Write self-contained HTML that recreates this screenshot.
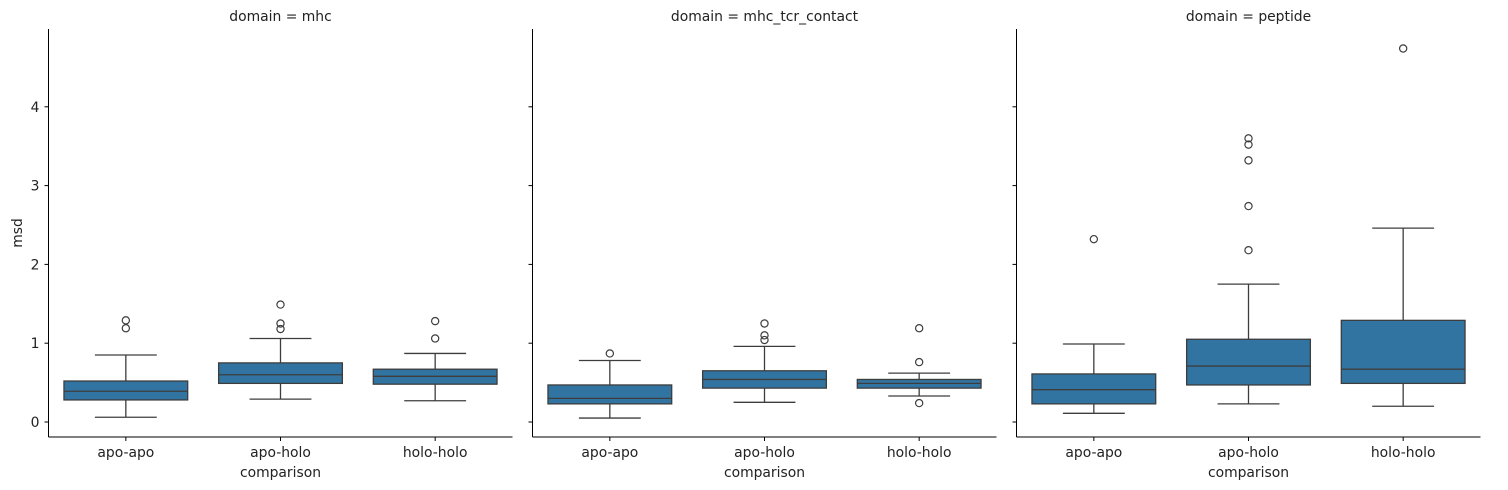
<!DOCTYPE html>
<html><head><meta charset="utf-8"><style>
body{margin:0;background:#fff;}
svg{display:block;font-family:"DejaVu Sans","Liberation Sans",sans-serif;}
</style></head><body>
<svg id="chart" width="1508" height="490" viewBox="0 0 1508 490"></svg>
<script>
const domains = ["mhc","mhc_tcr_contact","peptide"];
const categories = ["apo-apo","apo-holo","holo-holo"];
// [whiskerLow, q1, median, q3, whiskerHigh] per domain per category
const mhcStats = [[0.06,0.28,0.39,0.52,0.85],[0.29,0.49,0.60,0.75,1.06],[0.27,0.48,0.58,0.67,0.87]];
const contactStats = [[0.05,0.23,0.30,0.47,0.78],[0.25,0.43,0.54,0.65,0.96],[0.33,0.43,0.49,0.54,0.62]];
const peptideStats = [[0.11,0.23,0.41,0.61,0.99],[0.23,0.47,0.71,1.05,1.75],[0.20,0.49,0.67,1.29,2.46]];
const mhcOutliers = [[1.29,1.19],[1.49,1.25,1.18],[1.28,1.06]];
const contactOutliers = [[0.87],[1.25,1.10,1.04],[1.19,0.76,0.24]];
const peptideOutliers = [[2.32],[2.18,2.74,3.32,3.52,3.60],[4.74]];
const yTicks = [0,1,2,3,4];
const allStats=[mhcStats,contactStats,peptideStats];
const allOut=[mhcOutliers,contactOutliers,peptideOutliers];

const NS="http://www.w3.org/2000/svg";
const svg=document.getElementById('chart');
function mk(tag,attrs,parent){const e=document.createElementNS(NS,tag);for(const k in attrs)e.setAttribute(k,attrs[k]);(parent||svg).appendChild(e);return e;}
const panelLeft=[48.5,532.5,1016.5], panelW=464, TOPY=29, BOTY=437;
const FS=13.9;
const yScale=v=>422-v*78.8;
const ink="#3d3d3d", fill="#3274a1";

domains.forEach((d,p)=>{
  const L=panelLeft[p];
  const g=mk('g',{});
  
  
  const xScale=i=>L+panelW/6+i*panelW/3;
  const bw=panelW/3*0.8;
  const t=mk('text',{x:L+panelW/2,y:21,'text-anchor':'middle','font-size':FS,fill:'#222'},g);
  t.textContent='domain = '+d;
  
  
  const ya=mk('line',{x1:L,y1:TOPY,x2:L,y2:BOTY,stroke:'#000','stroke-width':1},g);
  
  
  const xa=mk('line',{x1:L,y1:BOTY,x2:L+panelW,y2:BOTY,stroke:'#000','stroke-width':1},g);
  
  
  yTicks.forEach(v=>{
    mk('line',{x1:L-4,y1:yScale(v),x2:L,y2:yScale(v),stroke:'#000'},g);
    if(p===0){const tl=mk('text',{x:L-9,y:yScale(v)+5,'text-anchor':'end','font-size':FS,fill:'#222'},g);tl.textContent=v;
      
      }
  });
  categories.forEach((c,i)=>{
    const cx=xScale(i), s=allStats[p][i];
    mk('line',{x1:cx,y1:BOTY,x2:cx,y2:BOTY+4,stroke:'#000'},g);
    const tl=mk('text',{x:cx,y:BOTY+20,'text-anchor':'middle','font-size':FS,fill:'#222'},g);tl.textContent=c;
    
    
    const bg=mk('g',{},g);
    
    
    mk('line',{x1:cx,y1:yScale(s[0]),x2:cx,y2:yScale(s[1]),stroke:ink,'stroke-width':1.3},bg);
    mk('line',{x1:cx,y1:yScale(s[3]),x2:cx,y2:yScale(s[4]),stroke:ink,'stroke-width':1.3},bg);
    mk('line',{x1:cx-bw/4,y1:yScale(s[0]),x2:cx+bw/4,y2:yScale(s[0]),stroke:ink,'stroke-width':1.3},bg);
    mk('line',{x1:cx-bw/4,y1:yScale(s[4]),x2:cx+bw/4,y2:yScale(s[4]),stroke:ink,'stroke-width':1.3},bg);
    mk('rect',{x:cx-bw/2,y:yScale(s[3]),width:bw,height:yScale(s[1])-yScale(s[3]),fill:fill,stroke:ink,'stroke-width':1.3},bg);
    mk('line',{x1:cx-bw/2,y1:yScale(s[2]),x2:cx+bw/2,y2:yScale(s[2]),stroke:ink,'stroke-width':1.3},bg);
    allOut[p][i].forEach(o=>{
      const c2=mk('circle',{cx:cx,cy:yScale(o),r:3.6,fill:'none',stroke:ink,'stroke-width':1.2},bg);
      
      
    });
  });
  const xt=mk('text',{x:L+panelW/2,y:477,'text-anchor':'middle','font-size':FS,fill:'#222'},g);xt.textContent='comparison';
  
  
});
const yt=mk('text',{x:22,y:233,'text-anchor':'middle','font-size':FS,fill:'#222',transform:'rotate(-90 22 233)'});
yt.textContent='msd';


</script>
</body></html>
